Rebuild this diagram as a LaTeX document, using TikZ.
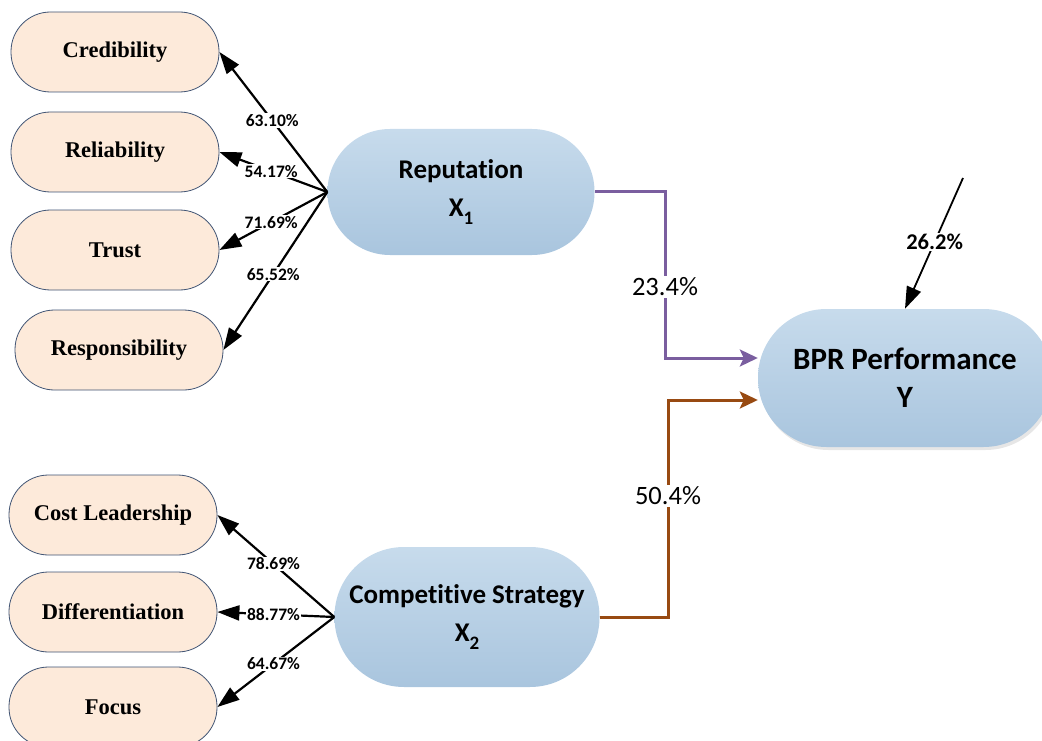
\documentclass[tikz,border=0pt]{standalone}
\usepackage{fontspec}
\setmainfont{Liberation Serif}
\newfontfamily\calf[Ligatures={NoCommon}]{Carlito}
\usetikzlibrary{arrows.meta,shadows}
\definecolor{indfill}{HTML}{FDEADA}
\definecolor{indborder}{HTML}{3F5373}
\definecolor{lattop}{HTML}{C7DBEC}
\definecolor{latbot}{HTML}{A9C5DE}
\definecolor{purp}{HTML}{7A5E9F}
\definecolor{brwn}{HTML}{984A12}
\newcommand{\subx}[1]{\raisebox{-0.3em}{\fontsize{19}{19}\selectfont #1}}
\begin{document}
\begin{tikzpicture}[x=1pt,y=-1pt,
  ind/.style={draw=indborder,line width=0.8pt,fill=indfill,rounded corners=39.5pt,
    minimum width=208pt,minimum height=80pt,inner sep=0pt,
    font=\fontsize{22.5}{26}\selectfont\bfseries},
  lat/.style={top color=lattop,bottom color=latbot,draw=none,align=center,inner sep=0pt,
    font=\calf\bfseries\fontsize{27}{38}\selectfont},
  fan/.style={draw=black,line width=2.2pt,-{Triangle[length=22pt,width=15pt]}},
  lbl/.style={fill=white,inner sep=1pt,text=black,font=\calf\bfseries\fontsize{17.5}{20}\selectfont},
  path/.style={line width=3pt,-{Stealth[length=18pt,width=17pt,inset=4pt]}},
  plbl/.style={fill=white,inner sep=2pt,text=black,font=\calf\fontsize{26.5}{30}\selectfont}]
\useasboundingbox (0,0) rectangle (1042,741);
% indicator nodes
\node[ind] (cred) at (115,52) {Credibility};
\node[ind] (reli) at (115,152) {Reliability};
\node[ind] (trust) at (115,250) {Trust};
\node[ind] (resp) at (119,350) {Responsibility};
\node[ind] (cost) at (113,515) {Cost Leadership};
\node[ind] (diff) at (113,612) {Differentiation};
\node[ind] (focus) at (113,707) {Focus};
% latent nodes
\node[lat,minimum width=267pt,minimum height=126pt,rounded corners=62.5pt] (rep) at (461,192)
  {Reputation\\X\subx{1}};
\node[lat,minimum width=265pt,minimum height=140pt,rounded corners=69.5pt] (comp) at (467,617)
  {Competitive Strategy\\X\subx{2}};
\node[lat,minimum width=294pt,minimum height=138pt,rounded corners=68.5pt,
  font=\calf\bfseries\fontsize{31}{38}\selectfont,
  drop shadow={shadow xshift=2pt,shadow yshift=-3pt,fill=black!12,opacity=0.8}] (bpr) at (905,378)
  {BPR Performance\\Y};
% fans
\draw[fan] (rep.west) -- node[lbl,pos=0.51]{63.10\%} (cred.east);
\draw[fan] (rep.west) -- node[lbl,pos=0.52]{54.17\%} (reli.east);
\draw[fan] (rep.west) -- node[lbl,pos=0.52]{71.69\%} (trust.east);
\draw[fan] (rep.west) -- node[lbl,pos=0.52]{65.52\%} (resp.east);
\draw[fan] (comp.west) -- node[lbl,pos=0.52]{78.69\%} (cost.east);
\draw[fan] (comp.west) -- node[lbl,pos=0.52]{88.77\%} (diff.east);
\draw[fan] (comp.west) -- node[lbl,pos=0.52]{64.67\%} (focus.east);
% structural paths
\coordinate (p1) at (665,358);
\coordinate (p2) at (668,400);
\draw[path,purp] (rep.east) -| node[plbl,pos=0.786]{23.4\%} (p1) -- (p1 -| bpr.west);
\draw[path,brwn] (comp.east) -| node[plbl,pos=0.779]{50.4\%} (p2) -- (p2 -| bpr.west);
% error term
\coordinate (err) at (963,178);
\draw[fan,line width=1.8pt] (err) -- node[lbl,pos=0.49,font=\calf\bfseries\fontsize{22.5}{26}\selectfont]{26.2\%} (bpr.north);
\end{tikzpicture}
\end{document}
